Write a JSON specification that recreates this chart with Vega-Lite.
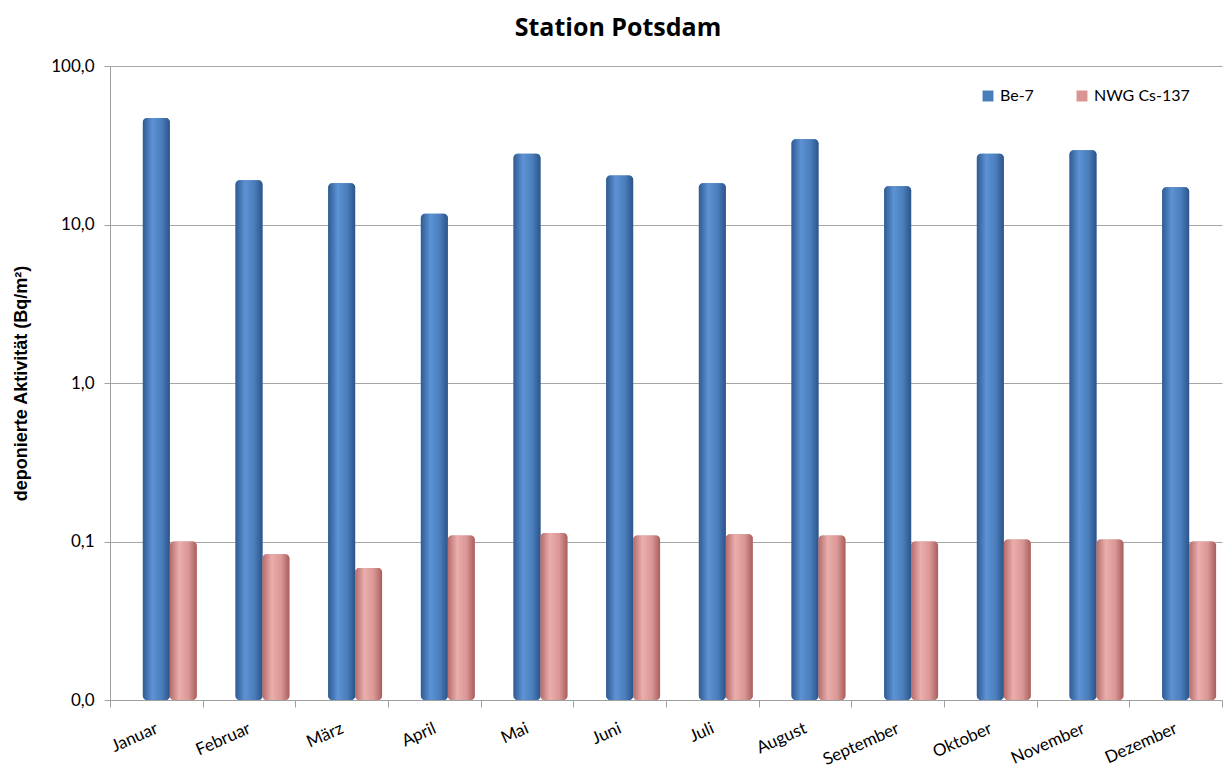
{
  "$schema": "https://vega.github.io/schema/vega-lite/v6.json",
  "autosize": "none",
  "width": 1112,
  "height": 634,
  "padding": {"left": 110, "top": 66, "right": 5, "bottom": 75},
  "background": "white",
  "title": {"text": "Station Potsdam", "fontSize": 25, "font": "Open Sans", "fontWeight": "bold", "color": "#000000", "offset": 16, "anchor": "middle", "dx": -48},
  "data": {"values": [
    {"Monat": "Januar", "Reihe": "Be-7", "Wert": 47},
    {"Monat": "Februar", "Reihe": "Be-7", "Wert": 19},
    {"Monat": "März", "Reihe": "Be-7", "Wert": 18.2},
    {"Monat": "April", "Reihe": "Be-7", "Wert": 11.7},
    {"Monat": "Mai", "Reihe": "Be-7", "Wert": 28},
    {"Monat": "Juni", "Reihe": "Be-7", "Wert": 20.4},
    {"Monat": "Juli", "Reihe": "Be-7", "Wert": 18.2},
    {"Monat": "August", "Reihe": "Be-7", "Wert": 34.5},
    {"Monat": "September", "Reihe": "Be-7", "Wert": 17.4},
    {"Monat": "Oktober", "Reihe": "Be-7", "Wert": 28},
    {"Monat": "November", "Reihe": "Be-7", "Wert": 29.4},
    {"Monat": "Dezember", "Reihe": "Be-7", "Wert": 17.2},
    {"Monat": "Januar", "Reihe": "NWG Cs-137", "Wert": 0.1},
    {"Monat": "Februar", "Reihe": "NWG Cs-137", "Wert": 0.083},
    {"Monat": "März", "Reihe": "NWG Cs-137", "Wert": 0.068},
    {"Monat": "April", "Reihe": "NWG Cs-137", "Wert": 0.109},
    {"Monat": "Mai", "Reihe": "NWG Cs-137", "Wert": 0.113},
    {"Monat": "Juni", "Reihe": "NWG Cs-137", "Wert": 0.109},
    {"Monat": "Juli", "Reihe": "NWG Cs-137", "Wert": 0.111},
    {"Monat": "August", "Reihe": "NWG Cs-137", "Wert": 0.109},
    {"Monat": "September", "Reihe": "NWG Cs-137", "Wert": 0.1},
    {"Monat": "Oktober", "Reihe": "NWG Cs-137", "Wert": 0.103},
    {"Monat": "November", "Reihe": "NWG Cs-137", "Wert": 0.103},
    {"Monat": "Dezember", "Reihe": "NWG Cs-137", "Wert": 0.1}
  ]},
  "encoding": {
    "x": {
      "field": "Monat", "type": "nominal", "sort": null,
      "scale": {"paddingInner": 0, "paddingOuter": 0},
      "axis": {"title": null, "labelAngle": -24, "labelFontSize": 17, "labelFont": "Lato", "labelColor": "#000000", "labelPadding": 13, "labelOffset": -3, "domainColor": "#a0a0a0", "tickColor": "#a0a0a0", "tickBand": "extent", "tickSize": 7, "grid": false}
    },
    "xOffset": {"field": "Reihe", "type": "nominal", "scale": {"domain": ["_", "Be-7", "NWG Cs-137"], "paddingInner": 0, "paddingOuter": 0.22}},
    "y": {
      "field": "Wert", "type": "quantitative",
      "scale": {"type": "log", "domain": [0.01, 100], "nice": false},
      "axis": {"title": "deponierte Aktivität (Bq/m²)", "titleFont": "Liberation Sans", "titleFontSize": 18, "titleFontWeight": "bold", "titleColor": "#000000", "titlePadding": 20,
        "values": [0.01, 0.1, 1, 10, 100],
        "labelExpr": "replace(format(datum.value, '.1f'), '.', ',')",
        "labelFont": "Lato", "labelFontSize": 17, "labelColor": "#000000", "labelPadding": 10,
        "grid": true, "gridColor": "#a6a6a6", "gridWidth": 1, "domainColor": "#a0a0a0", "tickColor": "#a0a0a0", "tickSize": 6}
    },
    "y2": {"datum": 0.01}
  },
  "layer": [
    {
      "mark": {"type": "bar", "cornerRadius": 4},
      "encoding": {
        "color": {
          "field": "Reihe", "type": "nominal",
          "scale": {"domain": ["Be-7", "NWG Cs-137"], "range": ["#4a7ebb", "#d99694"]},
          "legend": {"title": null, "orient": "none", "legendX": 870, "legendY": 22, "direction": "horizontal", "symbolType": "square", "symbolSize": 120, "labelFont": "Lato", "labelFontSize": 16, "labelColor": "#000000", "columnPadding": 40, "symbolStrokeWidth": 0}
        }
      }
    },
    {
      "transform": [{"filter": "datum.Reihe === 'Be-7'"}],
      "mark": {"type": "bar", "cornerRadius": 4, "color": {"gradient": "linear", "x1": 0, "y1": 0, "x2": 1, "y2": 0, "stops": [
        {"offset": 0, "color": "#2f5b92"},
        {"offset": 0.35, "color": "#5d92d4"},
        {"offset": 0.7, "color": "#4a7ebb"},
        {"offset": 1, "color": "#2c5489"}
      ]}}
    },
    {
      "transform": [{"filter": "datum.Reihe === 'NWG Cs-137'"}],
      "mark": {"type": "bar", "cornerRadius": 4, "color": {"gradient": "linear", "x1": 0, "y1": 0, "x2": 1, "y2": 0, "stops": [
        {"offset": 0, "color": "#b46c6a"},
        {"offset": 0.35, "color": "#eaaeac"},
        {"offset": 0.7, "color": "#d99694"},
        {"offset": 1, "color": "#a85f5d"}
      ]}}
    }
  ],
  "config": {"view": {"stroke": null}}
}
